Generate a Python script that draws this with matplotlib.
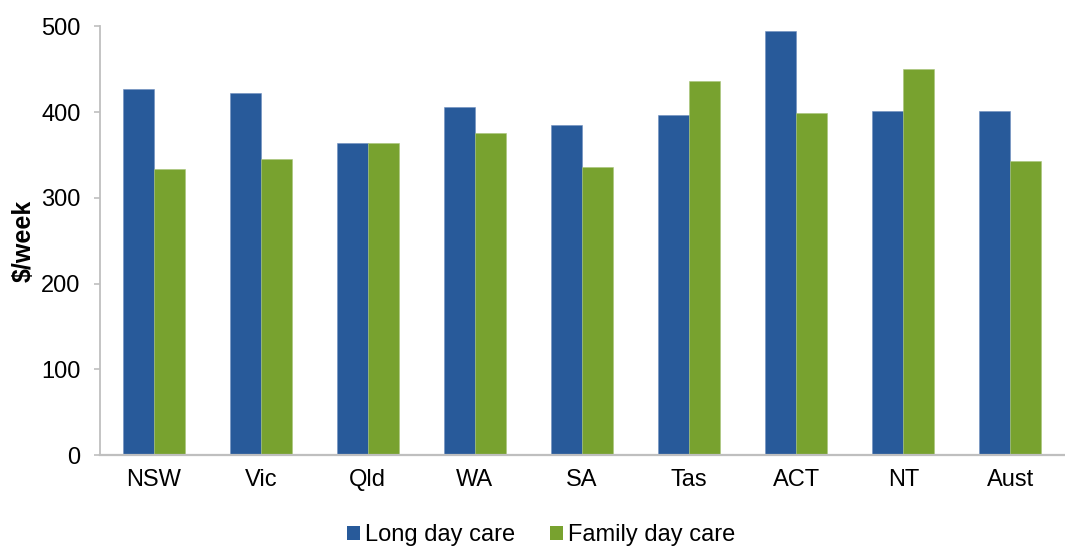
import matplotlib
matplotlib.use("Agg")
import matplotlib.pyplot as plt
from matplotlib.patches import Patch
import numpy as np

plt.rcParams['font.family'] = ['Liberation Sans', 'DejaVu Sans']

regions = ["NSW", "Vic", "Qld", "WA", "SA", "Tas", "ACT", "NT", "Aust"]
long_day_care = [427, 422, 364, 406, 385, 396, 494, 401, 401]
family_day_care = [334, 345, 364, 375, 336, 436, 399, 450, 343]
series_names = ["Long day care", "Family day care"]
y_ticks = [0, 100, 200, 300, 400, 500]

blue = "#285A9A"
green = "#78A22F"
axis_grey = "#BFBFBF"

fig = plt.figure(figsize=(10.65, 5.47), dpi=100)
ax = fig.add_axes([0.094, 0.168, 0.905, 0.784])

x = np.arange(len(regions))
w = 0.29
ax.bar(x - w / 2, long_day_care, width=w, color=blue, edgecolor="#6F8FBF", linewidth=0.4)
ax.bar(x + w / 2, family_day_care, width=w, color=green, edgecolor="#A8C47A", linewidth=0.4)

ax.set_xlim(-0.5, len(regions) - 0.5)
ax.set_ylim(0, 500)
ax.set_yticks(y_ticks)
ax.set_xticks(x)
ax.set_xticklabels(regions)

for side in ("top", "right"):
    ax.spines[side].set_visible(False)
ax.spines["left"].set_color(axis_grey)
ax.spines["bottom"].set_color(axis_grey)
ax.spines["left"].set_linewidth(1.3)
ax.spines["bottom"].set_linewidth(1.6)

ax.tick_params(axis="y", length=4, width=1.2, color=axis_grey, pad=10, labelsize=17)
ax.tick_params(axis="x", length=0, pad=10, labelsize=17)

ax.set_ylabel("$/week", fontsize=18, fontweight="bold")
ax.yaxis.set_label_coords(-0.067, 0.5)

handles = [Patch(facecolor=blue, edgecolor="none"), Patch(facecolor=green, edgecolor="none")]
fig.legend(handles, series_names, loc="center", bbox_to_anchor=(0.508, 1 - 535 / 547),
           ncol=2, frameon=False, fontsize=17, handlelength=0.55, handleheight=0.55,
           handletextpad=0.2, columnspacing=1.5, borderaxespad=0)

fig.savefig("out.png", dpi=100)
